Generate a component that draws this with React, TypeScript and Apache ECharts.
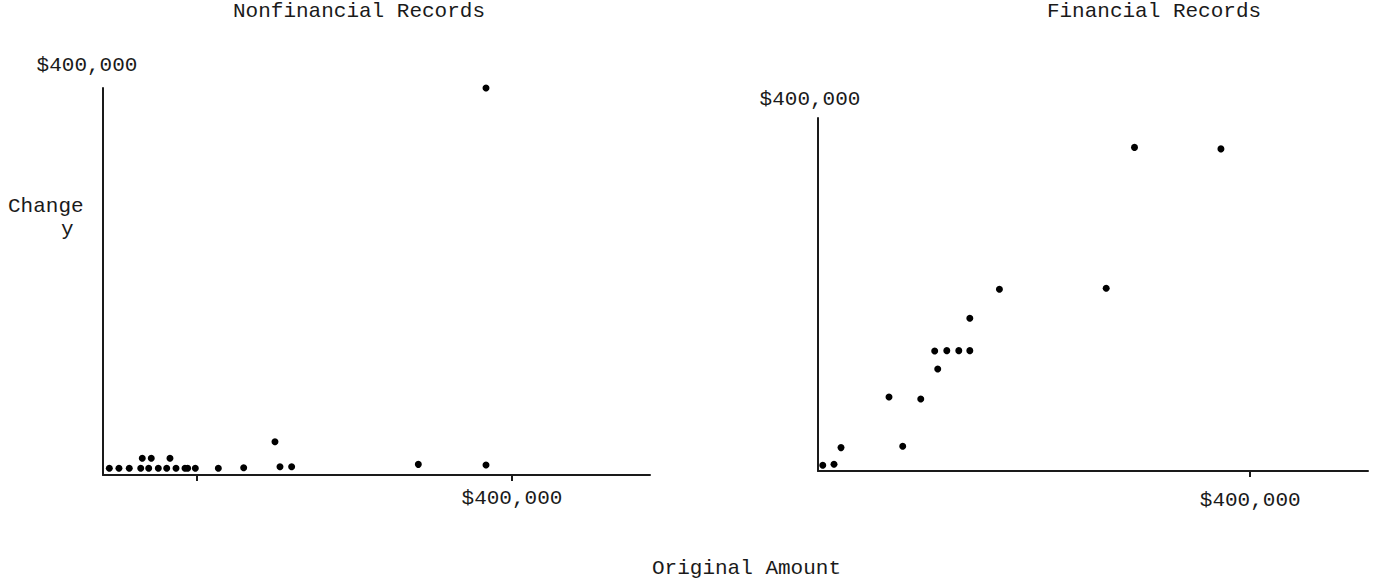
import React, { useEffect, useRef } from "react";
import * as echarts from "echarts";

// values in thousands of dollars
const nonfinancialX = [6.2, 15.6, 25.7, 36.9, 44.7, 54.1, 62.3, 71.4, 80.2, 82.8, 90.3, 112.8, 137.6, 173.1, 184.5, 38.4, 47.2, 65.5, 168.2, 308.4, 374.6, 374.6];
const nonfinancialY = [6.9, 6.9, 6.9, 6.9, 6.9, 6.9, 6.9, 6.9, 6.9, 6.9, 6.9, 6.9, 7.5, 8.5, 8.5, 17.3, 17.3, 17.3, 34.4, 11, 10.3, 400];

const financialX = [4.4, 14.8, 21.3, 65.7, 78.4, 95.1, 108, 110.8, 119.2, 130.3, 140.5, 140.5, 167.9, 266.7, 292.9, 372.9];
const financialY = [6.5, 7.6, 26.5, 83.8, 28.1, 81.5, 136, 115.6, 136.4, 136.4, 136.4, 173, 206, 207, 366.7, 365];

const xTickLabels = ["$400,000"];
const yTickLabels = ["$400,000"];
const titles = ["Nonfinancial Records", "Financial Records"];

const FONT = "Liberation Mono";
const INK = "#1a1a1a";

function pairs(xs: number[], ys: number[]) {
  return xs.map((x, i) => [x * 1000, ys[i] * 1000]);
}

export default function App() {
  const ref = useRef<HTMLDivElement>(null);
  useEffect(() => {
    document.body.style.margin = "0";
    const chart = echarts.init(ref.current!, null, { renderer: "svg" });
    const axisLine = { show: true, onZero: false, lineStyle: { color: INK, width: 2 } };
    const xLabel = (margin: number) => ({
      customValues: [400000],
      formatter: () => xTickLabels[0],
      color: INK,
      fontFamily: FONT,
      fontSize: 21,
      margin,
    });
    chart.setOption({
      animation: false,
      backgroundColor: "#ffffff",
      title: [
        { text: titles[0], left: 359, top: 1, textAlign: "center", padding: 0,
          textStyle: { fontFamily: FONT, fontSize: 21, fontWeight: "normal", color: INK } },
        { text: titles[1], left: 1154, top: 1, textAlign: "center", padding: 0,
          textStyle: { fontFamily: FONT, fontSize: 21, fontWeight: "normal", color: INK } },
      ],
      grid: [
        { left: 103, right: 725, top: 88, bottom: 111 },
        { left: 818, right: 7, top: 118, bottom: 115 },
      ],
      xAxis: [
        {
          gridIndex: 0, type: "value", min: 0, max: 535000,
          axisLine,
          axisTick: { show: true, customValues: [92000, 400000], length: 6, inside: false, lineStyle: { color: INK, width: 2 } },
          axisLabel: xLabel(13),
          splitLine: { show: false },
        },
        {
          gridIndex: 1, type: "value", min: 0, max: 509000,
          axisLine,
          axisTick: { show: true, customValues: [400000], length: 6, inside: false, lineStyle: { color: INK, width: 2 } },
          axisLabel: xLabel(19),
          splitLine: { show: false },
        },
      ],
      yAxis: [
        {
          gridIndex: 0, type: "value", min: 0, max: 400000,
          axisLine,
          axisTick: { show: false },
          axisLabel: { show: false },
          splitLine: { show: false },
          name: yTickLabels[0], nameLocation: "end", nameGap: 12,
          nameTextStyle: { fontFamily: FONT, fontSize: 21, color: INK, align: "center", padding: [0, 32, 0, 0] },
        },
        {
          gridIndex: 1, type: "value", min: 0, max: 400000,
          axisLine,
          axisTick: { show: false },
          axisLabel: { show: false },
          splitLine: { show: false },
          name: yTickLabels[0], nameLocation: "end", nameGap: 8,
          nameTextStyle: { fontFamily: FONT, fontSize: 21, color: INK, align: "center", padding: [0, 16, 0, 0] },
        },
      ],
      graphic: [
        { type: "text", left: 8, top: 196, style: { text: "Change", fontFamily: FONT, fontSize: 21, fill: INK } },
        { type: "text", left: 61, top: 219, style: { text: "y", fontFamily: FONT, fontSize: 21, fill: INK } },
        { type: "text", left: 652, top: 558, style: { text: "Original Amount", fontFamily: FONT, fontSize: 21, fill: INK } },
      ],
      series: [
        {
          type: "scatter", xAxisIndex: 0, yAxisIndex: 0,
          data: pairs(nonfinancialX, nonfinancialY),
          symbolSize: 7, itemStyle: { color: "#000", opacity: 1 },
        },
        {
          type: "scatter", xAxisIndex: 1, yAxisIndex: 1,
          data: pairs(financialX, financialY),
          symbolSize: 7, itemStyle: { color: "#000", opacity: 1 },
        },
      ],
    });
    return () => chart.dispose();
  }, []);
  return <div ref={ref} style={{ position: "fixed", left: 0, top: 0, width: 1375, height: 586 }} />;
}
